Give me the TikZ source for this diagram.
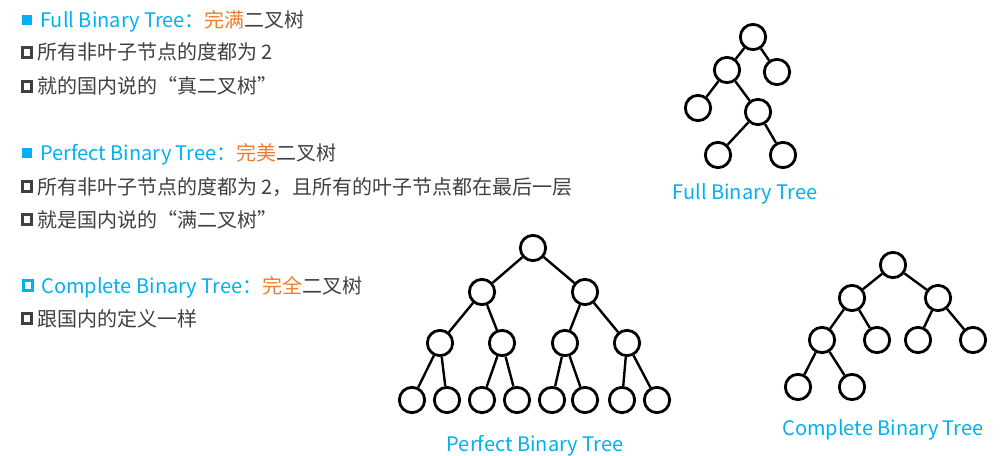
\documentclass[tikz,border=0pt]{standalone}
\usepackage{fontspec}
\setmainfont{Noto Sans CJK SC}
\definecolor{titleblue}{RGB}{0,176,240}
\definecolor{keyorange}{RGB}{237,125,49}
\definecolor{bodygray}{RGB}{64,64,64}

\begin{document}
\begin{tikzpicture}[x=0.75pt,y=-0.75pt,
    vertex/.style={circle,draw=black,line width=2.1pt,minimum size=19pt,inner sep=0pt},
    branch/.style={line width=1.8pt},
    textline/.style={anchor=base west,inner sep=0pt,text=bodygray,font=\fontsize{15}{18}\selectfont},
    caption/.style={anchor=base,inner sep=0pt,text=titleblue,font=\fontsize{15}{18}\selectfont},
    bulletfull/.style={fill=titleblue,minimum size=7.5pt,inner sep=0pt},
    bullethollow/.style={draw=#1,line width=2.2pt,minimum size=7.3pt,inner sep=0pt}]
  \useasboundingbox (0,0) rectangle (1005,456);

  % the text on the left
  \node[bulletfull] (b1) at (26.5,20) {};
  \node[textline] (t1) at (40,27.5) {\textcolor{titleblue}{Full Binary Tree：}\textcolor{keyorange}{完满}二叉树};
  \node[bullethollow=bodygray] (b2) at (27,52.5) {};
  \node[textline] (t2) at (37,60) {所有非叶子节点的度都为 2};
  \node[bullethollow=bodygray] (b3) at (27,86.5) {};
  \node[textline] (t3) at (37,94) {就的国内说的“真二叉树”};

  \node[bulletfull] (b4) at (26.5,153) {};
  \node[textline] (t4) at (40,160.5) {\textcolor{titleblue}{Perfect Binary Tree：}\textcolor{keyorange}{完美}二叉树};
  \node[bullethollow=bodygray] (b5) at (27,186.5) {};
  \node[textline] (t5) at (37,194) {所有非叶子节点的度都为 2，且所有的叶子节点都在最后一层};
  \node[bullethollow=bodygray] (b6) at (27,219.5) {};
  \node[textline] (t6) at (37,227) {就是国内说的“满二叉树”};

  \node[bullethollow=titleblue] (b7) at (28,285.5) {};
  \node[textline] (t7) at (41,293) {\textcolor{titleblue}{Complete Binary Tree：}\textcolor{keyorange}{完全}二叉树};
  \node[bullethollow=bodygray] (b8) at (27,318.5) {};
  \node[textline] (t8) at (37,326) {跟国内的定义一样};

  % full binary tree
  \node[vertex] (f1) at (753,37) {};
  \node[vertex] (f2) at (727,70) {};
  \node[vertex] (f3) at (777,72) {};
  \node[vertex] (f4) at (698,108) {};
  \node[vertex] (f5) at (758,112) {};
  \node[vertex] (f10) at (718,155) {};
  \node[vertex] (f11) at (783,155) {};
  \foreach \a/\b in {f1/f2,f1/f3,f2/f4,f2/f5,f5/f10,f5/f11}
    \draw[branch] (\a) -- (\b);
  \node[caption] (fcap) at (745,199) {Full Binary Tree};

  % perfect binary tree
  \node[vertex] (p1) at (533,248) {};
  \node[vertex] (p2) at (482,292) {};
  \node[vertex] (p3) at (585,292) {};
  \node[vertex] (p4) at (440,343) {};
  \node[vertex] (p5) at (502,343) {};
  \node[vertex] (p6) at (565,343) {};
  \node[vertex] (p7) at (627,343) {};
  \foreach \n/\x in {8/412,9/447,10/482,11/517,12/552,13/585,14/622,15/657}
    \node[vertex] (p\n) at (\x,400) {};
  \foreach \i in {1,...,7} {
    \pgfmathtruncatemacro{\l}{2*\i}
    \pgfmathtruncatemacro{\r}{2*\i+1}
    \draw[branch] (p\i) -- (p\l);
    \draw[branch] (p\i) -- (p\r);
  }
  \node[caption] (pcap) at (535,451) {Perfect Binary Tree};

  % complete binary tree
  \node[vertex] (c1) at (893,265) {};
  \node[vertex] (c2) at (852,298) {};
  \node[vertex] (c3) at (938,298) {};
  \node[vertex] (c4) at (822,340) {};
  \node[vertex] (c5) at (877,340) {};
  \node[vertex] (c6) at (918,340) {};
  \node[vertex] (c7) at (973,340) {};
  \node[vertex] (c8) at (798,387) {};
  \node[vertex] (c9) at (852,387) {};
  \foreach \i in {1,...,4} {
    \pgfmathtruncatemacro{\l}{2*\i}
    \pgfmathtruncatemacro{\r}{2*\i+1}
    \draw[branch] (c\i) -- (c\l);
    \draw[branch] (c\i) -- (c\r);
  }
  \node[caption] (ccap) at (883,435) {Complete Binary Tree};
\end{tikzpicture}
\end{document}
